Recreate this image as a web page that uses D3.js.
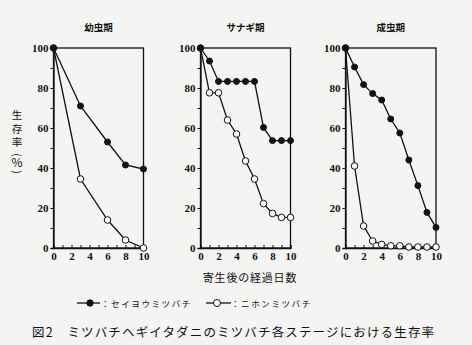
<!DOCTYPE html>
<html><head><meta charset="utf-8">
<script src="https://cdn.jsdelivr.net/npm/d3@7"></script>
<style>
body{margin:0;background:#f4f4f2;}
svg{display:block;}
</style></head><body>
<svg id="c" width="472" height="345"></svg>
<script>
const panelTitles = ["幼虫期", "サナギ期", "成虫期"];
const seriesNames = ["：セイヨウミツバチ", "：ニホンミツバチ"];
const xTickLabels = [0, 2, 4, 6, 8, 10];
const yTickLabels = [0, 20, 40, 60, 80, 100];

const larvaDays = [0, 3, 6, 8, 10];
const larvaWestern = [100, 71, 53, 41.5, 39.5];
const larvaJapanese = [100, 34.5, 14, 4, 0];

const pupaDays = [0, 1, 2, 3, 4, 5, 6, 7, 8, 9, 10];
const pupaWestern = [100, 93.5, 83.3, 83.3, 83.3, 83.3, 83.3, 60.3, 53.7, 53.7, 53.7];
const pupaJapanese = [100, 77.6, 77.6, 64, 57, 43.5, 34.5, 22.2, 17.3, 15.3, 15.3];

const adultDays = [0, 1, 2, 3, 4, 5, 6, 7, 8, 9, 10];
const adultWestern = [100, 90.5, 81.7, 77.2, 74, 64.5, 57.5, 44, 31.2, 17.8, 10.3];
const adultJapanese = [100, 41, 11, 3.5, 1.8, 1.1, 1.1, 0.5, 0.5, 0.5, 0.5];

const panels = [
  {title: panelTitles[0], days: larvaDays, w: larvaWestern, j: larvaJapanese, x0: 53.5, x1: 143.5},
  {title: panelTitles[1], days: pupaDays, w: pupaWestern, j: pupaJapanese, x0: 200.5, x1: 290.5},
  {title: panelTitles[2], days: adultDays, w: adultWestern, j: adultJapanese, x0: 345.5, x1: 436}
];

const svg = d3.select("#c");
const ink = "#111";
const jp = "'Noto Sans CJK JP', sans-serif";
const num = "'Liberation Serif', 'DejaVu Serif', serif";
const y = d3.scaleLinear().domain([0, 100]).range([248, 48]);

panels.forEach(p => {
  const x = d3.scaleLinear().domain([0, 10]).range([p.x0, p.x1]);
  const g = svg.append("g");
  g.append("rect").attr("x", x(0)).attr("y", y(100)).attr("width", x(10) - x(0)).attr("height", y(0) - y(100))
    .attr("fill", "none").attr("stroke", ink).attr("stroke-width", 1.3);
  const xa = d3.axisBottom(x).tickValues(d3.range(0, 11)).tickSize(-3).tickPadding(4)
    .tickFormat(d => xTickLabels.includes(d) ? d : "");
  const gx = g.append("g").attr("transform", `translate(0,${y(0)})`).call(xa);
  const ya = d3.axisLeft(y).tickValues(d3.range(0, 101, 10)).tickSize(3).tickPadding(2)
    .tickFormat(d => yTickLabels.includes(d) ? d : "");
  const gy = g.append("g").attr("transform", `translate(${x(0)},0)`).call(ya);
  [gx, gy].forEach(a => {
    a.select(".domain").attr("stroke", ink).attr("stroke-width", 1.3);
    a.selectAll(".tick line").attr("stroke", ink).attr("stroke-width", 1);
    a.selectAll("text").attr("fill", ink).style("font-family", num).style("font-size", "11px").style("font-weight", "bold");
  });
  gx.selectAll("text").attr("dy", "0.72em");
  gy.selectAll("text").attr("dy", "0.35em");
  g.append("text").attr("x", (x(0) + x(10)) / 2).attr("y", 31).attr("text-anchor", "middle")
    .style("font-family", jp).style("font-size", "9.5px").style("font-weight", "bold").attr("fill", ink).text(p.title);

  const line = d3.line().x((d, i) => x(p.days[i])).y(d => y(d));
  [["w", true], ["j", false]].forEach(([k]) => {
    g.append("path").datum(p[k]).attr("d", line).attr("fill", "none").attr("stroke", ink).attr("stroke-width", 1.3);
  });
  [["j", false], ["w", true]].forEach(([k, filled]) => {
    g.selectAll(null).data(p[k]).enter().append("circle")
      .attr("cx", (d, i) => x(p.days[i])).attr("cy", d => y(d))
      .attr("r", filled ? 3 : 3.3)
      .attr("fill", filled ? ink : "#fafafa").attr("stroke", ink).attr("stroke-width", 1);
  });
});

// y axis label
const yl = svg.append("g").attr("fill", ink).style("font-family", jp).style("font-size", "10.5px");
["生", "存", "率"].forEach((ch, i) => {
  yl.append("text").attr("x", 17).attr("y", 119 + i * 13.5).attr("text-anchor", "middle").text(ch);
});
yl.append("text").attr("transform", "translate(17,155) rotate(90)").attr("text-anchor", "middle").attr("dy", "0.35em").text("(");
yl.append("text").attr("x", 17).attr("y", 167).attr("text-anchor", "middle").style("font-size", "12px").text("%");
yl.append("text").attr("transform", "translate(17,172) rotate(90)").attr("text-anchor", "middle").attr("dy", "0.35em").text(")");

// x axis title
svg.append("text").attr("x", 250).attr("y", 282).attr("text-anchor", "middle")
  .style("font-family", jp).style("font-size", "11px").style("letter-spacing", "0.8px").attr("fill", ink).text("寄生後の経過日数");

// legend
const lg = svg.append("g");
const legendItems = [
  {name: seriesNames[0], filled: true, lx0: 77, lx1: 100, cx: 90, tx: 101},
  {name: seriesNames[1], filled: false, lx0: 206, lx1: 231, cx: 217, tx: 231}
];
legendItems.forEach(it => {
  lg.append("line").attr("x1", it.lx0).attr("x2", it.lx1).attr("y1", 303).attr("y2", 303).attr("stroke", ink).attr("stroke-width", 1.3);
  lg.append("circle").attr("cx", it.cx).attr("cy", 303).attr("r", it.filled ? 3.2 : 3.5)
    .attr("fill", it.filled ? ink : "#fafafa").attr("stroke", ink).attr("stroke-width", 1);
  lg.append("text").attr("x", it.tx).attr("y", 306.5)
    .style("font-family", jp).style("font-size", "8.5px").style("letter-spacing", "1.6px").attr("fill", ink).text(it.name);
});

// caption
svg.append("text").attr("x", 32).attr("y", 337)
  .style("font-family", jp).style("font-size", "12.5px").style("letter-spacing", "1.15px").attr("fill", ink)
  .text("図2　ミツバチヘギイタダニのミツバチ各ステージにおける生存率");
</script>
</body></html>
